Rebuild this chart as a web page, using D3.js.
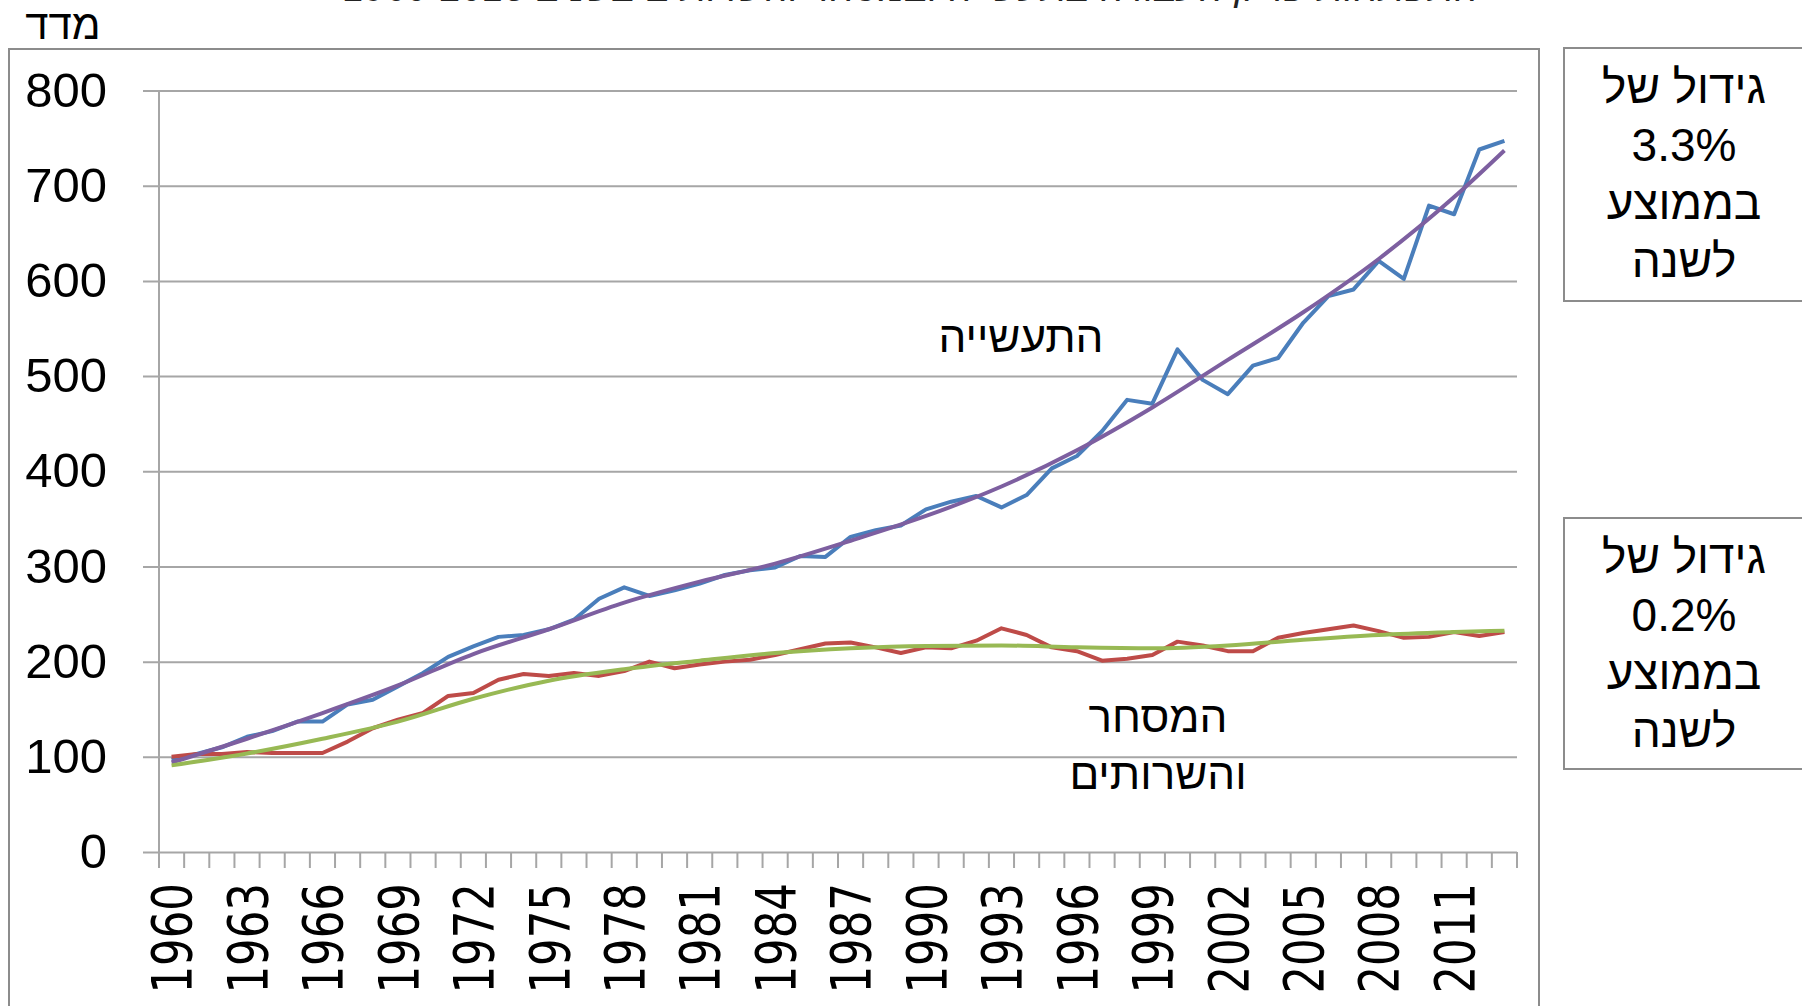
<!DOCTYPE html>
<html lang="he">
<head>
<meta charset="utf-8">
<script src="https://cdn.jsdelivr.net/npm/d3@7"></script>
<style>
  html, body { margin: 0; padding: 0; background: #fff; overflow: hidden; }
  svg { display: block; }
</style>
</head>
<body>
<script>
// categories
const years = [1960, 1961, 1962, 1963, 1964, 1965, 1966, 1967, 1968, 1969,
	1970, 1971, 1972, 1973, 1974, 1975, 1976, 1977, 1978, 1979,
	1980, 1981, 1982, 1983, 1984, 1985, 1986, 1987, 1988, 1989,
	1990, 1991, 1992, 1993, 1994, 1995, 1996, 1997, 1998, 1999,
	2000, 2001, 2002, 2003, 2004, 2005, 2006, 2007, 2008, 2009,
	2010, 2011, 2012, 2013];

// industry index (blue)
const industry = [97, 103, 110, 121, 127, 137, 137, 155, 160, 174,
	188, 205, 216, 226, 228, 234, 244, 266, 278, 269,
	275, 282, 291, 296, 299, 311, 310, 331, 338, 343,
	360, 368, 374, 362, 375, 403, 416, 442, 475, 471,
	528, 496, 481, 511, 519, 556, 584, 591, 621, 602,
	679, 670, 738, 747];

// commerce and services index (red)
const commerce = [100, 103, 103, 105, 104, 104, 104, 116, 130, 139,
	146, 164, 167, 181, 187, 185, 188, 185, 190, 200,
	193, 197, 200, 202, 207, 213, 219, 220, 215, 209,
	215, 214, 222, 235, 228, 215, 211, 201, 203, 207,
	221, 217, 211, 211, 225, 230, 234, 238, 232, 225,
	226, 231, 227, 231];

// trend lines
const trendYears = [1960, 1963, 1966, 1969, 1972, 1975, 1978, 1981, 1984, 1987,
	1990, 1993, 1996, 1999, 2002, 2005, 2008, 2011, 2013];
const industryTrend = [94, 119, 146, 175, 208, 234, 262, 284, 303, 327,
	353, 384, 422, 467, 517, 567, 623, 688, 737];
const commerceTrend = [91, 103.5, 119, 137, 161, 180, 192, 201, 209, 214,
	216.5, 217, 215, 214, 217, 223, 228, 231, 232.5];

const yTicks = [0, 100, 200, 300, 400, 500, 600, 700, 800];
const yearLabels = years.filter((d, i) => i % 3 === 0);

const boxTexts = [
	["גידול של", "3.3%", "בממוצע", "לשנה"],
	["גידול של", "0.2%", "בממוצע", "לשנה"],
];

const blue = "#4a7ebb";
const red = "#be4b48";
const purple = "#7d5fa0";
const green = "#98b954";
const gridColor = "#a6a6a6";
const frameColor = "#8c8c8c";
const latin = "'Liberation Sans', Arial, sans-serif";

const width = 1802;
const height = 1006;
const plotLeft = 159;
const plotRight = 1517;
const plotTop = 90.5;
const plotBottom = 852;

const svg = d3.select("body")
	.append("svg")
	.attr("width", width)
	.attr("height", height)
	.style("background-color", "#fff");

const x = d3.scaleBand().domain(years).range([plotLeft, plotRight]).padding(0);
const y = d3.scaleLinear().domain([0, 800]).range([plotBottom, plotTop]);
const xc = (d) => x(d) + x.bandwidth() / 2;

// title, cut by the top edge as in the source
svg.append("text")
	.attr("x", 911)
	.attr("y", 1)
	.attr("text-anchor", "middle")
	.attr("font-family", latin)
	.attr("font-style", "italic")
	.attr("font-size", 38)
	.attr("fill", "#222")
	.text("התפתחות פריון העבודה בתעשייה ובמסחר והשרותים בשנים 1960-2013");

// chart frame
svg.append("rect")
	.attr("x", 9)
	.attr("y", 49)
	.attr("width", 1530)
	.attr("height", 1000)
	.attr("fill", "none")
	.attr("stroke", frameColor)
	.attr("stroke-width", 2);

// side boxes
boxTexts.forEach((lines, b) => {
	const top = b === 0 ? 48 : 518;
	svg.append("rect")
		.attr("x", 1564)
		.attr("y", top)
		.attr("width", 300)
		.attr("height", b === 0 ? 253 : 251)
		.attr("fill", "none")
		.attr("stroke", frameColor)
		.attr("stroke-width", 2);
	svg.append("g")
		.selectAll("text")
		.data(lines)
		.join("text")
		.attr("x", 1684)
		.attr("y", (d, i) => top + 55 + i * 58)
		.attr("text-anchor", "middle")
		.attr("font-family", latin)
		.attr("font-size", 46)
		.attr("fill", "#000")
		.text((d) => d);
});

// y label
svg.append("text")
	.attr("x", 63)
	.attr("y", 39)
	.attr("text-anchor", "middle")
	.attr("font-family", latin)
	.attr("font-size", 42)
	.attr("fill", "#000")
	.text("מדד");

// gridlines and value labels
const yAxis = svg.append("g")
	.attr("transform", `translate(${plotLeft - 16},0)`)
	.call(d3.axisLeft(y)
		.tickValues(yTicks)
		.tickSizeInner(-(plotRight - plotLeft + 16))
		.tickSizeOuter(0)
		.tickPadding(36));
yAxis.select(".domain").remove();
yAxis.selectAll("line").attr("stroke", gridColor).attr("stroke-width", 2);
yAxis.selectAll("text")
	.attr("font-family", latin)
	.attr("font-size", 49)
	.attr("fill", "#000");

// vertical axis line
svg.append("line")
	.attr("x1", plotLeft)
	.attr("x2", plotLeft)
	.attr("y1", y(800))
	.attr("y2", plotBottom + 16)
	.attr("stroke", gridColor)
	.attr("stroke-width", 2);

// category ticks between years
const tickXs = years.map((d) => x(d)).concat([plotRight]);
svg.append("g")
	.selectAll("line")
	.data(tickXs)
	.join("line")
	.attr("x1", (d) => d)
	.attr("x2", (d) => d)
	.attr("y1", plotBottom)
	.attr("y2", plotBottom + 16)
	.attr("stroke", gridColor)
	.attr("stroke-width", 2);

// year labels
svg.append("g")
	.selectAll("text")
	.data(yearLabels)
	.join("text")
	.attr("transform", (d) => `translate(${xc(d)},883) rotate(-90) scale(0.79,1)`)
	.attr("text-anchor", "end")
	.attr("dy", "0.36em")
	.attr("font-family", "'DejaVu Sans', Verdana, sans-serif")
	.attr("font-size", 55)
	.attr("fill", "#000")
	.text((d) => d);

// series lines
const seriesLine = d3.line()
	.x((d) => xc(d.year))
	.y((d) => y(d.value));

const trendLine = d3.line()
	.x((d) => xc(d.year))
	.y((d) => y(d.value))
	.curve(d3.curveMonotoneX);

const toPoints = (yrs, vals) => vals.map((v, i) => ({ year: yrs[i], value: v }));

[
	{ data: toPoints(years, industry), color: blue, gen: seriesLine },
	{ data: toPoints(years, commerce), color: red, gen: seriesLine },
	{ data: toPoints(trendYears, industryTrend), color: purple, gen: trendLine },
	{ data: toPoints(trendYears, commerceTrend), color: green, gen: trendLine },
].forEach((s) => {
	svg.append("path")
		.datum(s.data)
		.attr("d", s.gen)
		.attr("fill", "none")
		.attr("stroke", s.color)
		.attr("stroke-width", 4)
		.attr("stroke-linejoin", "round");
});

// series names
const names = [
	{ text: "התעשייה", x: 1021, y: 352 },
	{ text: "המסחר", x: 1158, y: 732 },
	{ text: "והשרותים", x: 1158, y: 789 },
];
svg.append("g")
	.selectAll("text")
	.data(names)
	.join("text")
	.attr("x", (d) => d.x)
	.attr("y", (d) => d.y)
	.attr("text-anchor", "middle")
	.attr("font-family", latin)
	.attr("font-size", 44)
	.attr("fill", "#000")
	.text((d) => d.text);
</script>
</body>
</html>
